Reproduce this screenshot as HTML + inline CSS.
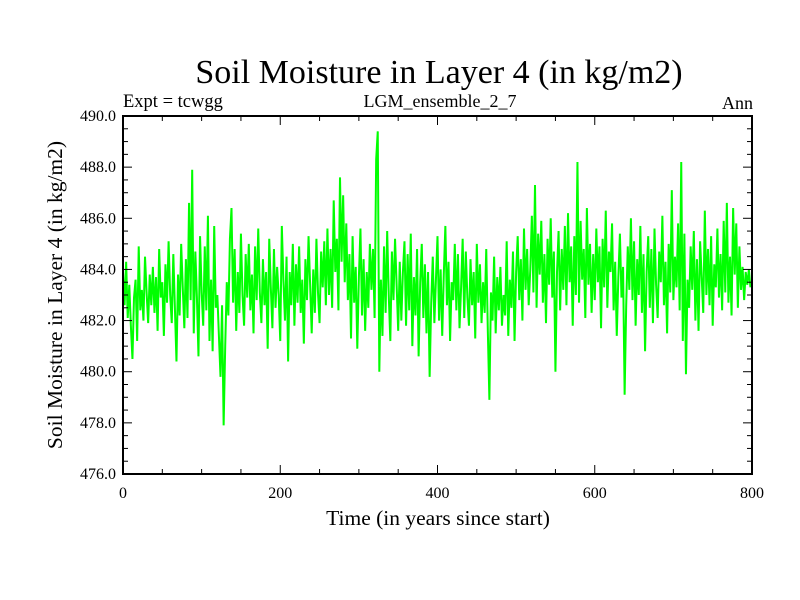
<!DOCTYPE html>
<html><head><meta charset="utf-8">
<style>
html,body{margin:0;padding:0;background:#fff;}
svg{display:block;font-family:"Liberation Serif",serif;}
</style></head>
<body>
<svg id="chart" width="800" height="600" viewBox="0 0 800 600">
<text x="439" y="83" font-size="34" text-anchor="middle">Soil Moisture in Layer 4 (in kg/m2)</text>
<text x="123" y="107" font-size="18.5">Expt = tcwgg</text>
<text x="440" y="107" font-size="18" text-anchor="middle">LGM_ensemble_2_7</text>
<text x="753" y="109" font-size="18" text-anchor="end">Ann</text>
<text x="438" y="525" font-size="21.5" text-anchor="middle">Time (in years since start)</text>
<text transform="translate(62,295) rotate(-90)" font-size="21.5" text-anchor="middle">Soil Moisture in Layer 4 (in kg/m2)</text>
<g id="series"></g>
<g id="axes"></g>
</svg>
<script>
const years = [];
const values = [
483.9,482.6,484.3,482.1,483.4,481.8,480.5,482.9,483.6,481.2,484.9,482.4,483.2,482.0,484.5,483.1,481.9,483.8,482.6,484.1,
482.3,483.7,481.6,484.8,482.9,483.5,481.4,484.2,482.7,485.1,483.0,481.9,484.6,482.5,480.4,483.8,482.2,485.0,483.3,481.7,
484.4,482.1,486.6,482.8,487.9,481.5,484.7,482.9,480.6,485.3,483.1,481.8,484.9,482.4,486.1,481.2,483.6,480.8,485.7,482.5,
483.0,481.4,479.8,482.6,477.9,481.0,483.5,482.2,485.2,486.4,482.7,484.8,481.6,483.9,482.3,485.4,483.0,481.8,484.6,482.9,
485.0,482.4,483.8,481.5,484.9,482.8,485.6,483.1,481.9,484.4,482.6,483.9,480.9,485.2,483.3,481.7,484.8,482.5,484.1,483.0,
481.2,485.7,483.6,482.0,484.5,480.4,483.9,482.6,485.0,481.8,484.2,482.7,484.9,482.3,483.6,481.1,484.4,482.8,485.3,483.4,
481.5,484.0,482.3,485.2,483.1,481.9,484.7,483.3,485.1,482.6,485.6,483.0,484.8,482.5,486.7,483.9,485.2,482.4,487.6,484.3,
486.9,483.5,485.8,482.8,484.6,481.3,485.3,482.7,484.1,480.9,483.7,485.6,482.2,484.4,481.6,483.9,482.5,485.0,483.2,484.8,
482.1,488.3,489.4,480.0,483.6,481.4,484.9,482.3,485.5,483.0,481.2,484.7,482.8,485.2,483.4,481.6,484.3,482.0,483.9,485.1,
481.8,484.6,482.4,485.4,481.0,483.7,482.2,484.8,480.6,483.5,485.0,482.1,484.2,481.5,483.9,479.8,482.7,484.5,481.9,483.6,
485.3,482.0,484.0,481.4,483.8,485.7,482.6,484.3,481.2,483.5,482.8,485.0,482.4,484.6,481.7,483.3,485.2,482.1,484.7,482.9,
481.8,484.4,482.6,483.9,481.3,485.0,482.7,484.2,481.9,483.5,482.3,484.8,481.6,478.9,483.1,482.0,484.5,481.5,483.7,482.4,
484.1,481.8,483.0,482.2,485.1,481.4,483.6,482.5,484.7,481.2,483.9,485.3,482.8,484.4,482.0,485.6,483.2,484.8,482.6,484.0,
486.1,483.1,487.3,482.5,485.4,483.8,485.9,482.7,484.6,481.9,485.2,483.4,486.0,482.9,484.7,480.0,483.9,485.5,482.4,484.8,
483.2,485.7,482.6,486.2,483.5,484.9,481.8,485.3,483.0,488.2,482.7,485.9,483.6,484.8,482.1,486.4,483.4,485.0,482.3,484.6,
482.8,485.6,483.5,484.9,481.7,485.2,483.3,486.3,482.5,484.7,483.9,485.8,482.4,484.3,481.4,483.7,485.4,482.9,484.1,479.1,
482.6,484.9,483.2,486.0,482.8,485.1,481.8,484.4,483.0,485.7,482.3,484.6,480.8,483.9,485.3,482.5,484.8,481.9,485.6,483.4,
482.1,484.7,483.5,486.1,482.6,484.3,481.5,485.0,483.1,487.1,482.8,484.5,483.3,485.8,482.4,488.2,481.2,485.4,479.9,483.6,
482.5,484.9,483.2,485.5,482.0,484.4,481.6,485.1,483.7,482.3,486.3,483.0,484.8,482.6,485.3,481.8,484.2,483.3,485.6,482.9,
484.6,482.4,485.9,483.1,486.6,482.7,484.5,482.2,486.4,483.8,485.8,482.5,484.9,483.2,484.1,482.8,483.9,483.4,484.0,483.3
];
for (let i = 0; i < values.length; i++) years.push(i * 2);
const xTicks = [0, 200, 400, 600, 800];
const yTicks = [476, 478, 480, 482, 484, 486, 488, 490];
const xMin = 0, xMax = 800, yMin = 476, yMax = 490;
const L = 123, R = 752, T = 116, B = 474;
const NS = 'http://www.w3.org/2000/svg';
function xs(v){ return L + (v - xMin) / (xMax - xMin) * (R - L); }
function ys(v){ return B - (v - yMin) / (yMax - yMin) * (B - T); }
function mk(tag, attrs, parent){ const e = document.createElementNS(NS, tag); for (const k in attrs) e.setAttribute(k, attrs[k]); parent.appendChild(e); return e; }

const series = document.getElementById('series');
let d = '';
for (let i = 0; i < values.length; i++) d += (i ? 'L' : 'M') + xs(years[i]).toFixed(2) + ',' + ys(values[i]).toFixed(2);
const line = mk('path', {d: d, fill: 'none', stroke: '#00ff00', 'stroke-width': 2}, series);



const axes = document.getElementById('axes');
const frame = mk('rect', {x: L, y: T, width: R - L, height: B - T, fill: 'none', stroke: '#000', 'stroke-width': 2}, axes);


for (let v = xMin; v <= xMax; v += 50) {
  const len = (v % 200 === 0) ? 9 : 5;
  const x = xs(v);
  mk('line', {x1: x, x2: x, y1: B, y2: B - len, stroke: '#000', 'stroke-width': 1}, axes);
  mk('line', {x1: x, x2: x, y1: T, y2: T + len, stroke: '#000', 'stroke-width': 1}, axes);
}
for (let v = yMin; v <= yMax + 1e-9; v += 0.5) {
  const len = (Math.abs(v % 2) < 1e-9) ? 9 : 5;
  const y = ys(v);
  mk('line', {x1: L, x2: L + len, y1: y, y2: y, stroke: '#000', 'stroke-width': 1}, axes);
  mk('line', {x1: R, x2: R - len, y1: y, y2: y, stroke: '#000', 'stroke-width': 1}, axes);
}
xTicks.forEach(v => {
  const t = mk('text', {x: xs(v), y: B + 24, 'font-size': 16, 'text-anchor': 'middle'}, axes);
  t.textContent = v;
  
  
});
yTicks.forEach(v => {
  const t = mk('text', {x: L - 7, y: ys(v) + 5, 'font-size': 16, 'text-anchor': 'end'}, axes);
  t.textContent = v.toFixed(1);
  
  
});
</script>
</body></html>
